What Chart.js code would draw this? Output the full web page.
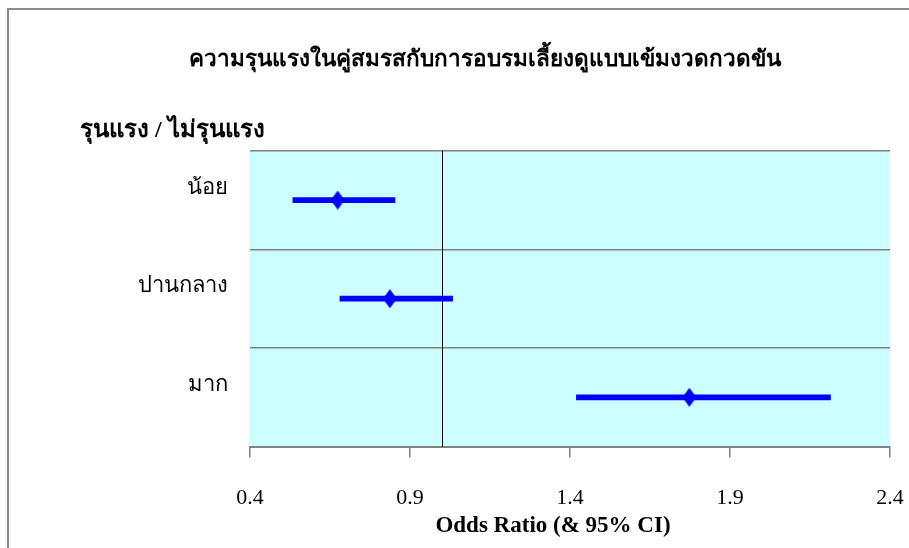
<!DOCTYPE html>
<html>
<head>
<meta charset="utf-8">
<script src="https://cdn.jsdelivr.net/npm/chart.js@4"></script>
<style>
  html, body { margin: 0; padding: 0; background: #fff; }
  #frame { position: absolute; left: 7px; top: 8px; width: 1000px; height: 1000px;
           border-left: 2px solid #8c8c8c; border-top: 2px solid #8c8c8c; }
  #wrap { position: absolute; left: 0; top: 0; width: 909px; height: 548px; }
</style>
</head>
<body>
<div id="frame"></div>
<div id="wrap"><canvas id="forest"></canvas></div>
<script>
// Forest plot: odds ratios with 95% CI
const categories = ['น้อย', 'ปานกลาง', 'มาก'];
const oddsRatio = [0.674, 0.837, 1.773];
const ciLow = [0.534, 0.681, 1.420];
const ciHigh = [0.853, 1.033, 2.214];
const xTicks = [0.4, 0.9, 1.4, 1.9, 2.4];
const refValue = 1.0;

const TITLE = 'ความรุนแรงในคู่สมรสกับการอบรมเลี้ยงดูแบบเข้มงวดกวดขัน';
const SUBTITLE = 'รุนแรง / ไม่รุนแรง';
const X_TITLE = 'Odds Ratio (& 95% CI)';
const THAI = "'Liberation Serif', 'Noto Sans', sans-serif";
const SERIF = "'Liberation Serif', serif";

// tall diamond marker
function diamond(w, h, color) {
  const c = document.createElement('canvas');
  c.width = w; c.height = h;
  const g = c.getContext('2d');
  g.fillStyle = color;
  g.beginPath();
  g.moveTo(w / 2, 0);
  g.lineTo(w, h / 2);
  g.lineTo(w / 2, h);
  g.lineTo(0, h / 2);
  g.closePath();
  g.fill();
  return c;
}

const plotDecor = {
  id: 'plotDecor',
  beforeDraw(chart) {
    const { ctx, chartArea: a } = chart;
    ctx.save();
    ctx.fillStyle = '#CCFFFF';
    ctx.fillRect(a.left, a.top, a.right - a.left, a.bottom - a.top);
    ctx.restore();
  },
  beforeDatasetsDraw(chart) {
    const { ctx, chartArea: a, scales } = chart;
    const x = Math.round(scales.x.getPixelForValue(refValue)) + 0.5;
    ctx.save();
    ctx.strokeStyle = '#000';
    ctx.lineWidth = 1;
    ctx.beginPath();
    ctx.moveTo(x, a.top);
    ctx.lineTo(x, a.bottom);
    ctx.stroke();
    ctx.restore();
  },
  afterDraw(chart) {
    // x axis title sits a little left of the plot centre in the original
    const { ctx } = chart;
    ctx.save();
    ctx.fillStyle = '#000';
    ctx.font = 'bold 23px ' + SERIF;
    ctx.textAlign = 'center';
    ctx.textBaseline = 'middle';
    ctx.fillText(X_TITLE, 553, 526);
    ctx.restore();
  }
};

const ctx = document.getElementById('forest').getContext('2d');
new Chart(ctx, {
  type: 'bar',
  data: {
    labels: categories,
    datasets: [
      {
        type: 'scatter',
        label: 'OR',
        data: categories.map((c, i) => ({ x: oddsRatio[i], y: c })),
        pointStyle: diamond(14, 19, '#0000FF'),
        backgroundColor: '#0000FF',
        borderColor: '#0000FF',
        order: 0,
      },
      {
        type: 'bar',
        label: '95% CI',
        data: categories.map((c, i) => [ciLow[i], ciHigh[i]]),
        backgroundColor: '#0000FF',
        borderWidth: 0,
        barThickness: 5,
        order: 1,
      },
    ],
  },
  options: {
    indexAxis: 'y',
    responsive: true,
    maintainAspectRatio: false,
    animation: false,
    layout: { padding: { left: 80, right: 19, top: 0, bottom: 10 } },
    plugins: {
      legend: { display: false },
      tooltip: { enabled: false },
      title: {
        display: true,
        text: TITLE,
        color: '#000',
        font: { family: THAI, size: 22.5, weight: 'bold' },
        padding: { top: 47, bottom: 42 },
      },
      subtitle: {
        display: true,
        text: SUBTITLE,
        align: 'start',
        color: '#000',
        font: { family: THAI, size: 24, weight: 'bold' },
        padding: { top: 0, bottom: 6 },
      },
    },
    scales: {
      x: {
        type: 'linear',
        min: 0.4,
        max: 2.4,
        afterBuildTicks: s => { s.ticks = xTicks.map(v => ({ value: v })); },
        afterFit: s => { s.paddingLeft = 0; s.paddingRight = 0; },
        border: { display: true, color: '#808080', width: 2 },
        grid: { drawOnChartArea: false, drawTicks: true, tickLength: 11, color: '#808080', lineWidth: 1.5 },
        ticks: {
          color: '#000',
          padding: 27,
          font: { family: SERIF, size: 22 },
          callback: v => v.toFixed(1),
        },
      },
      y: {
        type: 'category',
        offset: true,
        afterFit: s => { s.width = 170; },
        border: { display: false },
        grid: { offset: true, drawTicks: false, color: '#808080', lineWidth: 1.5 },
        ticks: {
          color: '#000',
          padding: 22,
          labelOffset: -12,
          font: { family: THAI, size: 22 },
        },
      },
    },
  },
  plugins: [plotDecor],
});
</script>
</body>
</html>
